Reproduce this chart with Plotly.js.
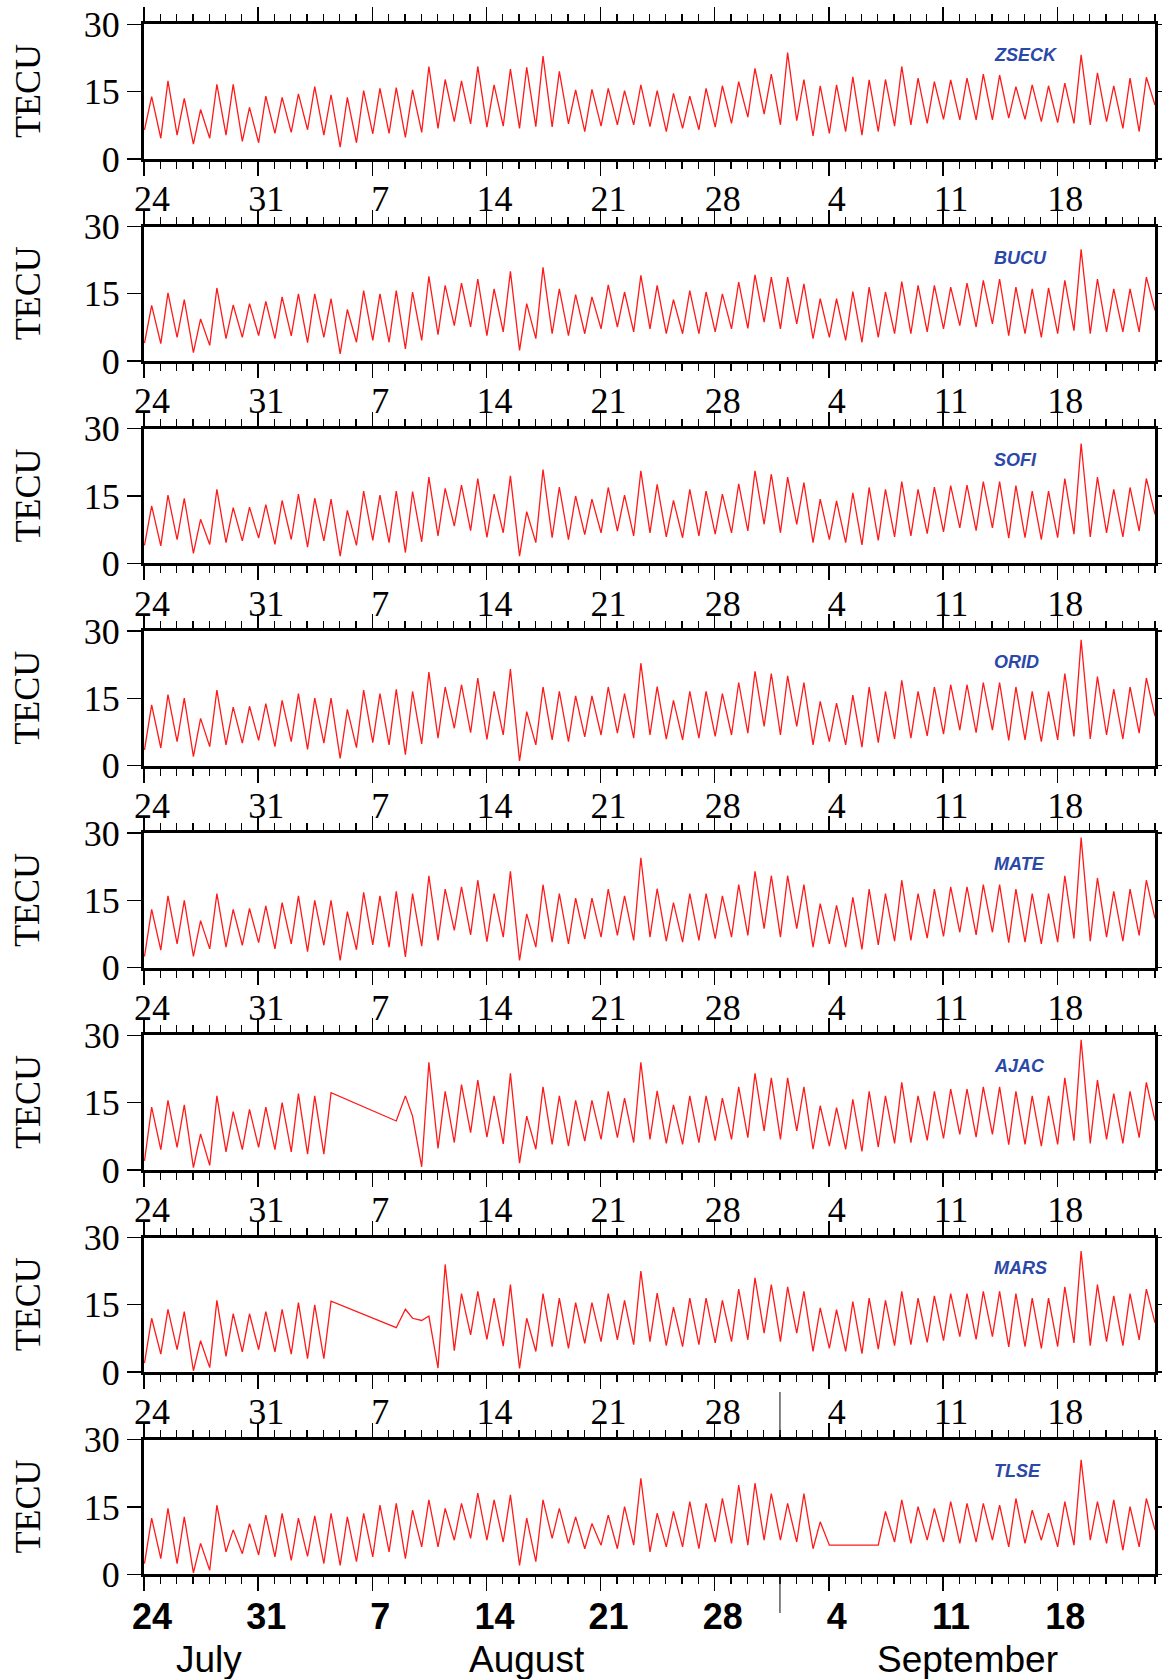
<!DOCTYPE html>
<html><head><meta charset="utf-8">
<script src="https://cdn.plot.ly/plotly-3.0.1.min.js"></script>
<style>html,body{margin:0;padding:0;background:#fff;}#chart{width:1162px;height:1679px;}</style>
</head><body><div id="chart"></div>
<script>
// ---------------- DATA ----------------
const stations = ['ZSECK','BUCU','SOFI','ORID','MATE','AJAC','MARS','TLSE'];
const tickDays = [0,7,14,21,28,35,42,49,56];
const tickLabels = ['24','31','7','14','21','28','4','11','18'];
const monthNames = ['July','August','September'];
const yTicks = [0,15,30];

// daily maxima (one per day, Jul 24 .. Sep 23) and daily minima (day start, plus final value); null = data gap
const zseckMax = [13.9,17.4,13.5,11,16.6,16.6,11.5,14.0,13.7,14.5,16.1,14.3,13.7,15.2,15.7,15.9,15.4,20.6,17.7,17.4,20.6,16.5,20.0,20.4,22.9,19.5,15.4,15.5,15.7,15.2,16.5,
                  15.2,14.6,14.0,15.7,16.3,17.2,20.2,18.9,23.7,17.7,16.3,16.5,18.3,17.6,17.7,20.6,18.0,17.2,17.6,18.0,18.9,18.7,16.1,16.5,16.3,16.9,23.2,19.2,16.3,18.0,18.2];
const zseckMin = [6.5,4.6,5.3,3.3,4.6,5.3,3.9,3.6,5.7,5.9,6.5,5.3,2.6,3.6,5.6,5.7,4.8,5.9,6.8,8.3,7.8,7.1,7.3,6.8,7.2,7.1,7.8,6.1,7.3,7.6,7.6,
                  7.2,6.1,6.8,6.5,7.1,7.9,9.3,10.0,7.6,8.5,5.1,5.7,6.1,5.3,6.1,7.3,7.6,7.9,8.8,8.7,8.7,8.7,9.1,8.8,8.3,8.1,7.9,7.6,8.3,6.8,6.1,12.0];

const bucuMax = [12.4,15.2,13.7,9.4,16.3,12.5,12.8,13.3,14.3,15.0,15.0,13.9,11.5,15.7,15.0,15.7,15.4,18.9,16.9,17.4,18.3,16.1,20.0,12.8,20.9,16.1,14.8,14.3,17.0,15.4,19.1,
                 16.9,13.7,15.7,15.4,15.0,17.6,19.2,18.7,18.7,17.2,13.9,13.9,15.5,16.5,15.4,17.7,16.9,16.9,16.5,17.4,18.0,18.3,16.5,16.1,16.3,18.0,24.9,18.3,16.1,16.1,18.7];
const bucuMin = [4.0,3.9,5.3,1.9,3.5,5.0,5.3,5.7,5.0,5.6,4.1,5.3,1.6,4.2,4.6,4.2,2.7,4.6,5.9,7.9,7.6,5.7,6.5,2.4,5.0,6.1,5.7,6.1,7.2,7.6,6.5,
                 7.2,6.1,6.1,6.1,6.5,7.2,7.3,8.7,7.2,8.3,5.0,5.3,4.6,4.2,5.3,6.1,6.1,6.5,7.2,7.9,7.6,8.3,5.7,6.1,5.3,6.1,6.8,6.1,6.5,6.5,6.5,11.3];

const sofiMax = [12.8,15.2,14.5,9.8,16.5,12.4,12.5,13.1,14.0,15.4,14.5,14.3,11.8,16.1,15.2,16.1,16.0,19.2,16.7,17.4,18.9,15.4,19.5,11.5,20.9,17.0,15.0,14.3,16.9,15.2,20.6,
                 17.6,14.0,16.5,16.1,15.4,17.7,20.6,19.9,19.2,18.0,14.3,13.9,15.7,16.9,16.5,18.2,16.5,17.0,17.3,17.4,18.2,18.2,17.3,16.1,16.1,18.9,26.7,19.2,16.5,16.9,18.9];
const sofiMin = [4.0,3.9,5.3,2.2,4.2,4.6,5.0,5.6,4.2,5.3,3.6,5.0,1.6,4.0,5.1,4.6,2.4,4.8,6.1,8.3,7.3,5.8,6.8,1.6,4.6,5.7,5.3,6.4,6.8,7.2,6.1,
                 6.8,5.9,5.7,6.1,6.5,6.8,7.2,8.7,6.8,8.7,4.6,5.3,4.6,4.1,5.1,5.9,6.1,6.6,7.0,7.9,7.3,7.9,5.6,5.7,5.3,5.7,6.5,5.9,6.8,5.9,7.2,10.9];

const oridMax = [13.5,15.8,15.0,10.5,16.8,13.0,13.2,13.8,14.5,16.0,15.0,15.0,12.5,16.8,16.0,17.0,16.5,20.8,17.5,18.0,19.5,16.5,21.5,12.0,17.5,16.5,15.5,15.5,17.5,16.0,22.8,
                 17.6,14.5,16.5,16.5,16.0,18.5,21.0,20.5,20.0,18.5,14.3,13.9,15.7,17.5,16.5,19.0,16.5,17.5,18.0,18.0,18.5,18.5,17.5,16.5,16.5,20.5,28.0,19.8,17.0,17.5,19.5];
const oridMin = [3.5,3.9,5.3,2.0,4.2,4.6,5.0,5.6,4.2,5.3,3.6,5.0,1.6,4.0,5.1,4.6,2.4,4.8,6.1,8.3,7.3,5.8,6.8,1.0,4.6,5.7,5.3,6.4,6.8,7.2,6.1,
                 6.8,5.9,5.7,6.1,6.5,6.8,7.2,8.7,6.8,8.7,4.6,5.3,4.6,4.1,5.1,5.9,6.1,6.6,7.0,7.9,7.3,7.9,5.6,5.7,5.3,5.7,6.5,5.9,6.8,5.9,7.2,11.0];

const mateMax = [13.0,16.0,15.0,10.5,16.5,13.0,13.2,13.8,14.5,16.0,15.0,15.0,12.5,16.8,16.0,17.0,16.5,20.5,17.5,18.0,19.5,16.5,21.5,12.0,18.5,16.5,15.5,15.5,17.5,16.0,24.5,
                 17.6,14.5,16.5,16.5,16.0,18.5,21.5,20.5,20.5,18.5,14.3,13.9,15.7,17.5,16.5,19.5,16.5,17.5,18.0,18.0,18.5,18.5,17.5,16.5,16.5,20.5,29.0,20.0,17.0,17.5,19.5];
const mateMin = [2.5,3.9,5.3,2.5,4.2,4.6,5.0,5.6,4.2,5.3,3.6,5.0,1.6,4.0,5.1,4.6,2.4,4.8,6.1,8.3,7.3,5.8,6.8,1.6,4.6,5.7,5.3,6.4,6.8,7.2,6.1,
                 6.8,5.9,5.7,6.1,6.5,6.8,7.2,8.7,6.8,8.7,4.6,5.3,4.6,4.1,5.1,5.9,6.1,6.6,7.0,7.9,7.3,7.9,5.6,5.7,5.3,5.7,6.5,5.9,6.8,5.9,7.2,11.0];

const ajacMax = [14.0,15.5,14.5,8.0,16.5,13.0,13.5,14.0,15.0,17.0,16.5,17.2,null,null,null,10.9,12.0,24.0,17.5,19.0,20.0,16.5,21.5,12.0,18.5,16.5,15.5,15.5,17.5,16.0,24.0,
                 17.6,14.5,16.5,16.5,16.0,18.5,21.5,20.5,20.5,18.5,14.3,13.9,15.7,17.5,16.5,19.5,16.5,17.5,18.0,18.0,18.5,18.5,17.5,16.5,16.5,20.5,29.0,20.0,17.0,17.5,19.5];
const ajacMin = [2.0,4.5,5.0,0.5,1.0,4.0,4.5,5.0,4.5,4.0,3.5,3.5,null,null,null,null,16.5,0.7,4.8,6.1,8.3,7.3,5.8,1.5,4.6,5.7,5.3,6.4,6.8,7.2,6.1,
                 6.8,5.9,5.7,6.1,6.5,6.8,7.2,8.7,6.8,8.7,4.6,5.3,4.6,4.1,5.1,5.9,6.1,6.6,7.0,7.9,7.3,7.9,5.6,5.7,5.3,5.7,6.5,5.9,6.8,5.9,7.2,11.0];

const marsMax = [12.0,14.0,13.5,7.0,16.0,13.0,13.0,13.5,14.0,15.5,15.0,15.8,null,null,null,9.9,12.0,12.5,24.0,17.5,18.0,16.5,19.5,12.0,17.5,16.5,15.5,15.5,17.5,16.0,22.5,
                 17.6,14.5,16.5,16.5,16.0,18.5,21.0,19.5,19.0,18.0,14.3,13.9,15.7,16.5,16.0,18.0,16.5,17.0,17.5,17.5,18.0,18.0,17.5,16.5,16.5,19.0,27.0,19.5,17.0,17.5,18.5];
const marsMin = [2.0,4.0,5.0,0.3,1.0,3.5,4.5,5.0,4.5,4.0,3.0,3.0,null,null,null,null,14.0,11.5,0.9,4.8,8.3,7.3,5.8,0.8,4.6,5.7,5.3,6.4,6.8,7.2,6.1,
                 6.8,5.9,5.7,6.1,6.5,6.8,7.2,8.7,6.8,8.7,4.6,5.3,4.6,4.1,5.1,5.9,6.1,6.6,7.0,7.9,7.3,7.9,5.6,5.7,5.3,5.7,6.5,5.9,6.8,5.9,7.2,11.0];

const tlseMax = [12.5,14.7,12.8,6.9,15.4,9.9,11.3,13.2,13.6,12.5,13.0,13.6,12.8,13.6,15.4,15.8,14.3,16.6,14.7,15.8,18.1,16.6,17.7,12.5,16.6,14.7,12.8,11.3,13.2,15.1,21.4,
                 13.6,14.0,16.2,15.8,16.9,19.9,20.3,18.0,15.8,18.0,11.7,null,null,null,14.0,16.6,15.1,14.7,16.2,15.8,15.8,15.4,16.9,14.3,13.6,16.2,25.5,16.2,16.6,15.1,16.9];
const tlseMin = [2.4,3.5,2.4,0.3,0.9,5.0,4.6,4.3,3.9,3.1,4.0,2.4,2.0,2.8,3.9,5.0,3.5,6.1,6.1,7.6,8.0,7.6,7.2,2.0,2.8,8.0,6.9,5.7,6.5,5.7,6.5,
                 5.0,6.1,6.1,5.7,7.2,6.9,6.5,7.6,7.6,7.2,5.7,6.5,null,null,6.5,7.2,6.9,7.6,7.2,6.9,7.2,7.6,6.1,6.9,7.6,6.1,6.5,7.6,6.9,5.4,6.1,9.9];

const maxSeries = [zseckMax,bucuMax,sofiMax,oridMax,mateMax,ajacMax,marsMax,tlseMax];
const minSeries = [zseckMin,bucuMin,sofiMin,oridMin,mateMin,ajacMin,marsMin,tlseMin];

// ---------------- BUILD ----------------
const W = 1162, H = 1679;
const plotLeft = 144, plotRight = 1155;
const firstTop = 24.3, panelStep = 202.2, panelH = 134.6;
const MIN_T = 0.03, MAX_T = 0.47; // times of day for daily min / max

const traces = [];
const layout = {
  width: W, height: H, autosize: false,
  margin: {l:0, r:0, t:0, b:0, pad:0},
  paper_bgcolor: '#fff', plot_bgcolor: '#fff',
  showlegend: false,
  annotations: [], shapes: []
};

stations.forEach((name, i) => {
  const n = i + 1;
  const xs = [], ys = [];
  const mx = maxSeries[i], mn = minSeries[i];
  for (let d = 0; d < mx.length; d++) {
    xs.push(d + MIN_T); ys.push(mn[d]);
    xs.push(d + MAX_T); ys.push(mx[d]);
  }
  xs.push(mx.length); ys.push(mn[mx.length]);
  traces.push({
    type: 'scatter', mode: 'lines', x: xs, y: ys,
    xaxis: 'x' + n, yaxis: 'y' + n,
    connectgaps: true,
    line: {color: '#ff1a1a', width: 1.3},
    hoverinfo: 'skip'
  });

  const top = firstTop + panelStep * i, bot = top + panelH;
  const isLast = (i === stations.length - 1);
  layout['xaxis' + n] = {
    domain: [plotLeft / W, plotRight / W], anchor: 'y' + n,
    range: [0, 62], fixedrange: true,
    tickmode: 'array', tickvals: tickDays, ticktext: tickLabels,
    ticks: 'outside', ticklen: 14, tickwidth: 1.3, tickcolor: '#000',
    showline: true, linewidth: 3, linecolor: '#000', mirror: 'allticks',
    showgrid: false, zeroline: false,
    tickfont: isLast ? {family: 'Liberation Sans, Arial, sans-serif', size: 36, color: '#000', weight: 'bold'}
                     : {family: 'Liberation Serif, Times New Roman, serif', size: 36, color: '#000'},
    ticklabelshift: 8, ticklabelstandoff: isLast ? -6 : -8,
    minor: {tickmode: 'linear', tick0: 0, dtick: 1, ticks: 'outside', ticklen: 7, tickwidth: 1.3, tickcolor: '#000', showgrid: false}
  };
  layout['yaxis' + n] = {
    domain: [1 - bot / H, 1 - top / H], anchor: 'x' + n,
    range: [0, 30], fixedrange: true,
    tickmode: 'array', tickvals: yTicks, ticktext: yTicks.map(String),
    ticks: 'outside', ticklen: 14, tickwidth: 1.3, tickcolor: '#000',
    showline: true, linewidth: 3, linecolor: '#000', mirror: 'allticks',
    showgrid: false, zeroline: false,
    tickfont: {family: 'Liberation Serif, Times New Roman, serif', size: 36, color: '#000'}
  };
  layout.annotations.push({
    text: 'TECU', textangle: -90, xref: 'paper', yref: 'paper',
    x: 27.5 / W, y: 1 - (top + bot) / 2 / H, xanchor: 'center', yanchor: 'middle',
    showarrow: false, font: {family: 'Liberation Serif, Times New Roman, serif', size: 36, color: '#000'}
  });
  layout.annotations.push({
    text: name, xref: 'paper', yref: 'paper',
    x: 992 / W, y: 1 - (top + 31) / H, xanchor: 'left', yanchor: 'middle',
    showarrow: false,
    font: {family: 'Liberation Sans, Arial, sans-serif', size: 18, color: '#2a48a8', weight: 'bold', style: 'italic'}
  });
});

// month names under bottom axis
const monthX = [4.0, 23.5, 50.5];
monthNames.forEach((m, k) => {
  layout.annotations.push({
    text: m, xref: 'x8', yref: 'paper', x: monthX[k], y: 1 - 1659 / H,
    xanchor: 'center', yanchor: 'middle', showarrow: false,
    font: {family: 'Liberation Sans, Arial, sans-serif', size: 37, color: '#000'}
  });
});

// month boundary markers (Sep 1)
[[1392, 1435], [1577, 1613]].forEach(([a, b]) => {
  layout.shapes.push({type: 'line', xref: 'x8', yref: 'paper', x0: 39, x1: 39,
    y0: 1 - a / H, y1: 1 - b / H, line: {color: '#333', width: 1.2}});
});

Plotly.newPlot('chart', traces, layout, {staticPlot: true, displayModeBar: false});
</script>
</body></html>
